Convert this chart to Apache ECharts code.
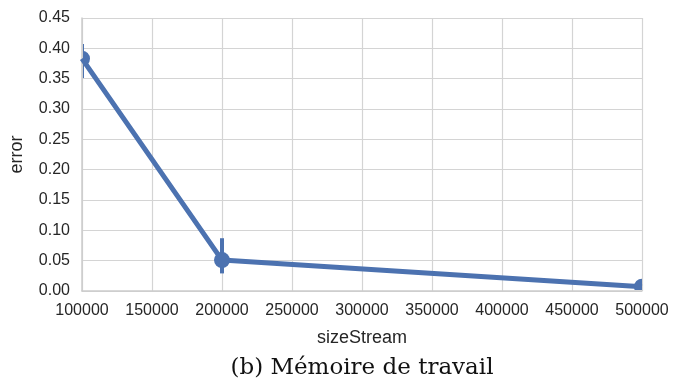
<!DOCTYPE html>
<html>
<head>
<meta charset="utf-8">
<script src="https://cdn.jsdelivr.net/npm/echarts@6/dist/echarts.min.js"></script>
<style>
  body { margin: 0; background: #fff; }
  #chart { width: 674px; height: 385px; }
</style>
</head>
<body>
<div id="chart"></div>
<script>
// sizeStream values and mean error with its confidence interval
var sizes = [100000, 200000, 500000];
var errMean = [0.383, 0.051, 0.007];
var errLow = [0.351, 0.029, 0.003];
var errHigh = [0.407, 0.087, 0.011];

var blue = '#4C72B0';

function grafico() {
  var chart = document.getElementById('chart');
  var myChart = echarts.init(chart);

  var points = sizes.map(function (s, i) {
    return [s, errMean[i], errLow[i], errHigh[i]];
  });

  var option = {
    backgroundColor: '#fff',
    animation: false,
    grid: { left: 82, right: 32, top: 18, bottom: 94, containLabel: false, outerBoundsMode: 'none' },
    xAxis: {
      type: 'value',
      min: 100000,
      max: 500000,
      interval: 50000,
      name: 'sizeStream',
      nameLocation: 'middle',
      nameGap: 38,
      nameTextStyle: { fontFamily: 'Liberation Sans', fontSize: 18, color: '#262626' },
      axisLine: { lineStyle: { color: '#cccccc', width: 1.5 } },
      axisTick: { show: false },
      axisLabel: {
        fontFamily: 'Liberation Sans', fontSize: 16, color: '#262626', margin: 12,
        formatter: function (v) { return String(v); }
      },
      splitLine: { lineStyle: { color: '#d4d4d4', width: 1.2 } }
    },
    yAxis: {
      type: 'value',
      min: 0,
      max: 0.45,
      interval: 0.05,
      name: 'error',
      nameLocation: 'middle',
      nameGap: 56,
      nameTextStyle: { fontFamily: 'Liberation Sans', fontSize: 18, color: '#262626' },
      axisLine: { show: true, lineStyle: { color: '#cccccc', width: 1.5 } },
      axisTick: { show: false },
      axisLabel: {
        fontFamily: 'Liberation Sans', fontSize: 16, color: '#262626', margin: 12,
        formatter: function (v) { return v.toFixed(2); }
      },
      splitLine: { lineStyle: { color: '#d4d4d4', width: 1.2 } }
    },
    graphic: [{
      type: 'text',
      x: 362,
      y: 368,
      style: {
        text: '(b) Mémoire de travail',
        font: '23px "DejaVu Serif", serif',
        fill: '#111',
        textAlign: 'center',
        textVerticalAlign: 'middle'
      }
    }],
    series: [
      {
        type: 'line',
        data: sizes.map(function (s, i) { return [s, errMean[i]]; }),
        showSymbol: false,
        lineStyle: { color: blue, width: 5 },
        z: 3
      },
      {
        type: 'custom',
        clip: true,
        data: points,
        renderItem: function (params, api) {
          var x = api.value(0);
          var c = api.coord([x, api.value(1)]);
          var lo = api.coord([x, api.value(2)]);
          var hi = api.coord([x, api.value(3)]);
          var cs = params.coordSys;
          return {
            type: 'group',
            clipPath: {
              type: 'rect',
              shape: { x: cs.x + 1, y: cs.y - 20, width: cs.width, height: cs.height + 19 }
            },
            children: [
              {
                type: 'line',
                shape: { x1: lo[0], y1: lo[1], x2: hi[0], y2: hi[1] },
                style: { stroke: blue, lineWidth: 4 }
              },
              {
                type: 'circle',
                shape: { cx: c[0], cy: c[1], r: 8 },
                style: { fill: blue }
              }
            ]
          };
        },
        z: 4
      }
    ]
  };

  myChart.setOption(option);
}

grafico();
</script>
</body>
</html>
